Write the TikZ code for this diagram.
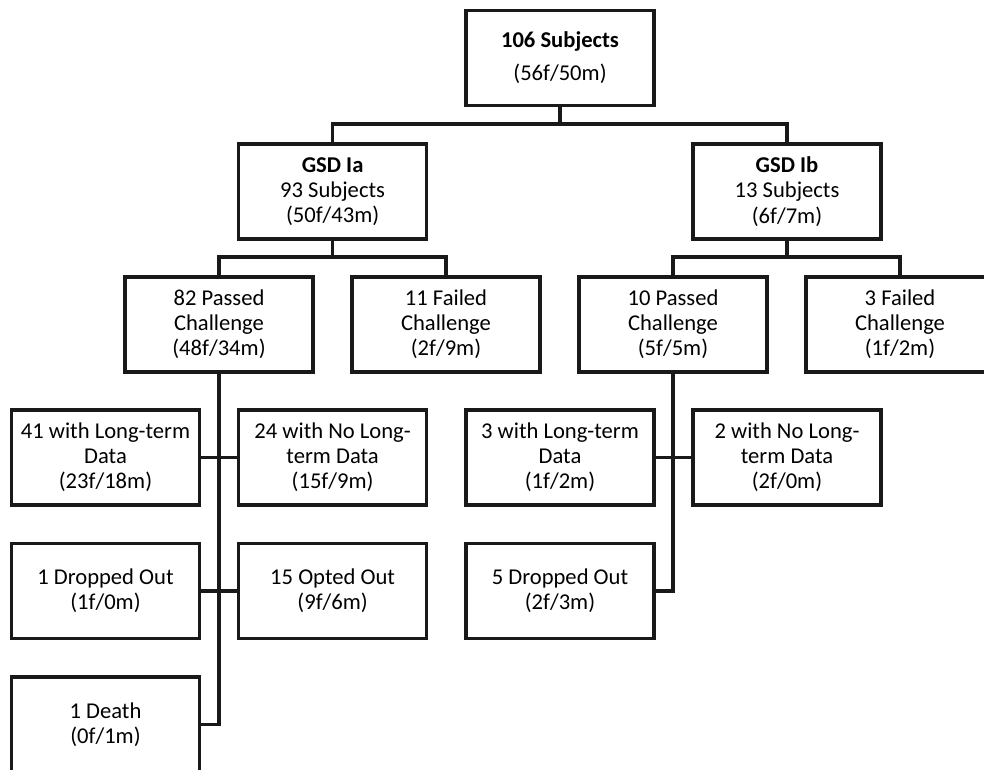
\documentclass[tikz,border=0pt]{standalone}
\usepackage{fontspec}
\setmainfont{Carlito}
\begin{document}
\begin{tikzpicture}[
        x=0.5pt, y=-0.5pt,
        box/.style={draw=black!90, line width=1.6pt, fill=white, minimum width=94pt,
            minimum height=47.5pt, inner sep=0pt, align=center,
            font=\fontsize{11.3pt}{12.6pt}\selectfont},
        link/.style={draw=black!90, line width=1.6pt}
    ]
        \clip (0,0) rectangle (984,770);

        % Level 1
        \node[box] (all) at (560, 58) {\textbf{106 Subjects}\\[4pt](56f/50m)};

        % Level 2 (GSD types)
        \node[box] (ia) at (332.6, 191.5) {\textbf{GSD Ia}\\93 Subjects\\(50f/43m)};
        \node[box] (ib) at (787, 191.5) {\textbf{GSD Ib}\\13 Subjects\\(6f/7m)};

        % Level 3 (Challenge)
        \node[box] (passA) at (219, 324.5) {82 Passed\\Challenge\\(48f/34m)};
        \node[box] (failA) at (446, 324.5) {11 Failed\\Challenge\\(2f/9m)};
        \node[box] (passB) at (673, 324.5) {10 Passed\\Challenge\\(5f/5m)};
        \node[box] (failB) at (900, 324.5) {3 Failed\\Challenge\\(1f/2m)};

        % Level 4 (Long-term data)
        \node[box] (longA) at (105.5, 457.5) {41 with Long-term\\Data\\(23f/18m)};
        \node[box] (nolongA) at (332.6, 457.5) {24 with No Long-\\term Data\\(15f/9m)};
        \node[box] (longB) at (560, 457.5) {3 with Long-term\\Data\\(1f/2m)};
        \node[box] (nolongB) at (787, 457.5) {2 with No Long-\\term Data\\(2f/0m)};

        % Level 5 and 6 (Losses)
        \node[box] (dropA) at (105.5, 591) {1 Dropped Out\\(1f/0m)};
        \node[box] (optA) at (332.6, 591) {15 Opted Out\\(9f/6m)};
        \node[box] (dropB) at (560, 591) {5 Dropped Out\\(2f/3m)};
        \node[box] (death) at (105.5, 724.5) {1 Death\\(0f/1m)};

        % Junctions
        \coordinate (j0) at (560, 124);
        \coordinate (jA) at (332.6, 257);
        \coordinate (jB) at (787, 257);

        % Tree connectors
        \draw[link] (all.south) -- (j0);
        \draw[link] (ia.north) |- (j0) -| (ib.north);
        \draw[link] (ia.south) -- (jA);
        \draw[link] (passA.north) |- (jA) -| (failA.north);
        \draw[link] (ib.south) -- (jB);
        \draw[link] (passB.north) |- (jB) -| (failB.north);

        % Trunks GSD Ia
        \draw[link] (passA.south) |- (death.east);
        \draw[link] (longA.east) -- (nolongA.west);
        \draw[link] (dropA.east) -- (optA.west);

        % Trunks GSD Ib
        \draw[link] (passB.south) |- (dropB.east);
        \draw[link] (longB.east) -- (nolongB.west);
    \end{tikzpicture}
\end{document}
